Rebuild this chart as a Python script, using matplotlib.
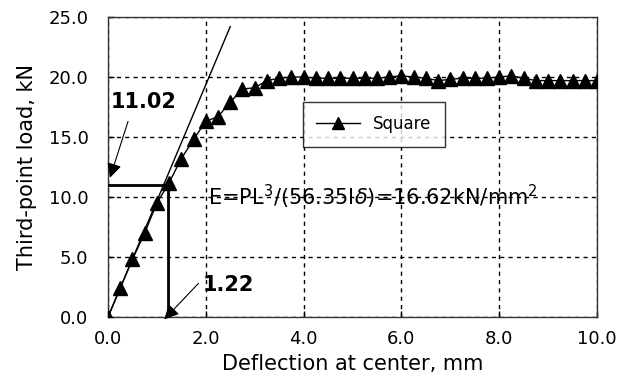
import matplotlib
matplotlib.use("Agg")
import matplotlib.pyplot as plt

deflection = [0.0, 0.25, 0.5, 0.75, 1.0, 1.25, 1.5, 1.75, 2.0, 2.25, 2.5, 2.75,
              3.0, 3.25, 3.5, 3.75, 4.0, 4.25, 4.5, 4.75, 5.0, 5.25, 5.5, 5.75,
              6.0, 6.25, 6.5, 6.75, 7.0, 7.25, 7.5, 7.75, 8.0, 8.25, 8.5, 8.75,
              9.0, 9.25, 9.5, 9.75, 10.0]
load = [0.0, 2.4, 4.8, 7.0, 9.5, 11.2, 13.2, 14.8, 16.3, 16.7, 17.9, 19.0,
        19.1, 19.7, 19.9, 20.0, 20.0, 19.9, 19.9, 19.9, 19.9, 19.9, 19.9, 20.0,
        20.1, 20.0, 19.9, 19.7, 19.8, 19.9, 19.9, 19.9, 20.0, 20.1, 19.9, 19.7,
        19.7, 19.7, 19.7, 19.7, 19.7]

fit_x = [0.0, 2.5]
fit_y = [0.0, 24.2]
yield_load = 11.02
yield_defl = 1.22

xticks = [0, 2, 4, 6, 8, 10]
yticks = [0, 5, 10, 15, 20, 25]

plt.rcParams['font.family'] = ['DejaVu Sans']

fig = plt.figure(figsize=(6.32, 3.84), dpi=100)
ax = fig.add_axes([108/632, 1 - 317/384, 489/632, 300/384])

ax.set_xlim(0, 10)
ax.set_ylim(0, 25)
ax.set_xticks(xticks)
ax.set_yticks(yticks)
ax.set_xticklabels([f"{v:.1f}" for v in xticks], fontsize=13)
ax.set_yticklabels([f"{v:.1f}" for v in yticks], fontsize=13)
ax.tick_params(axis='x', direction='in', length=4, width=1, pad=9)
ax.tick_params(axis='y', direction='in', length=4, width=1, pad=14)
ax.grid(True, color='black', linestyle=(0, (3, 3)), linewidth=1)
ax.set_axisbelow(True)
for s in ax.spines.values():
    s.set_color('#333333')
    s.set_linewidth(1)

ax.plot(fit_x, fit_y, color='black', linewidth=1, zorder=3)
ax.plot(deflection, load, color='black', linewidth=1, marker='^',
        markersize=10, markerfacecolor='black', markeredgecolor='black',
        label='Square', zorder=4)

ax.plot([0, yield_defl, yield_defl], [yield_load, yield_load, 0],
        color='black', linewidth=2, zorder=3)

ax.text(0.05, 17.9, '11.02', fontsize=15, fontweight='bold',
        ha='left', va='center', zorder=5)
ax.annotate('', xy=(0.04, 11.6), xytext=(0.41, 16.3),
            arrowprops=dict(arrowstyle='-|>', color='black', lw=0.8,
                            mutation_scale=22, shrinkA=0, shrinkB=0))
ax.text(1.93, 2.7, '1.22', fontsize=15, fontweight='bold',
        ha='left', va='center', zorder=5)
ax.annotate('', xy=(1.15, -0.2), xytext=(1.85, 2.8), annotation_clip=False,
            arrowprops=dict(arrowstyle='-|>', color='black', lw=0.8,
                            mutation_scale=22, shrinkA=0, shrinkB=0))

ax.text(2.05, 10.0, r'E=PL$^3$/(56.35I$\delta$)=16.62kN/mm$^2$', fontsize=15,
        ha='left', va='center', zorder=5)

leg = ax.legend(loc='upper left', bbox_to_anchor=(0.399, 0.717), fontsize=12,
                frameon=True, fancybox=False, edgecolor='black',
                borderpad=0.8, borderaxespad=0, handlelength=2.6,
                markerscale=0.9)
leg.get_frame().set_linewidth(1)

ax.set_xlabel('Deflection at center, mm', fontsize=15, labelpad=5)
ax.set_ylabel('Third-point load, kN', fontsize=15, labelpad=8)

fig.savefig('out.png', dpi=100)
